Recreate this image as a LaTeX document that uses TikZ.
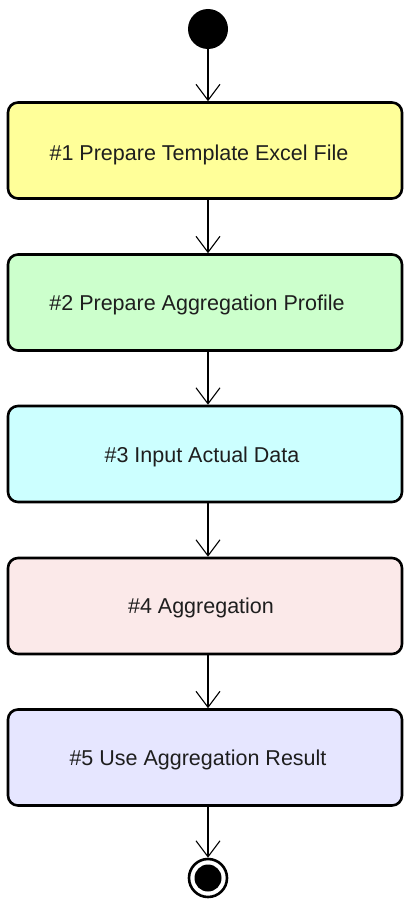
\documentclass[tikz,border=0pt]{standalone}
\usepackage{fontspec}
\setmainfont{Liberation Sans}
\usetikzlibrary{arrows.meta}
\definecolor{cYellow}{RGB}{255,255,153}
\definecolor{cGreen}{RGB}{204,255,204}
\definecolor{cCyan}{RGB}{204,255,255}
\definecolor{cPink}{RGB}{251,233,233}
\definecolor{cLavender}{RGB}{230,230,255}
\definecolor{cText}{RGB}{30,30,30}
\tikzset{
  activity/.style={draw=black, line width=2.6pt, rounded corners=10pt,
    minimum width=394pt, minimum height=96pt, inner sep=0pt},
  label/.style={font=\fontsize{21.5}{24}\selectfont, text=cText},
  flow/.style={draw=black, line width=1.1pt,
    -{Straight Barb[length=16pt, width=24pt, line width=1.1pt]}},
}
\begin{document}
\begin{tikzpicture}[x=1pt, y=-1pt]
  \useasboundingbox (0,0) rectangle (404,899);
  % initial state
  \node[circle, fill=black, minimum size=40pt, inner sep=0pt] (start) at (208,29) {};
  % activities
  \node[activity, fill=cYellow]   (a1) at (205,150.5) {};
  \node[activity, fill=cGreen]    (a2) at (205,302.5) {};
  \node[activity, fill=cCyan]     (a3) at (205,454) {};
  \node[activity, fill=cPink]     (a4) at (205,606) {};
  \node[activity, fill=cLavender] (a5) at (205,757.5) {};
  \node[label] (t1) at (199,155) {\#1 Prepare Template Excel File};
  \node[label] (t2) at (197,305) {\#2 Prepare Aggregation Profile};
  \node[label] (t3) at (202,457) {\#3 Input Actual Data};
  \node[label] (t4) at (201,608) {\#4 Aggregation};
  \node[label] (t5) at (198,760) {\#5 Use Aggregation Result};
  % final state
  \node[circle, draw=black, line width=2.6pt, fill=white, minimum size=38pt, inner sep=0pt] (stop) at (208,878) {};
  \node[circle, fill=black, minimum size=27pt, inner sep=0pt] (stopdot) at (208,878) {};
  % transitions
  \draw[flow] (start.south) -- (a1.north -| start);
  \draw[flow] (a1.south -| start) -- (a2.north -| start);
  \draw[flow] (a2.south -| start) -- (a3.north -| start);
  \draw[flow] (a3.south -| start) -- (a4.north -| start);
  \draw[flow] (a4.south -| start) -- (a5.north -| start);
  \draw[flow] (a5.south -| start) -- (stop.north);
\end{tikzpicture}
\end{document}
